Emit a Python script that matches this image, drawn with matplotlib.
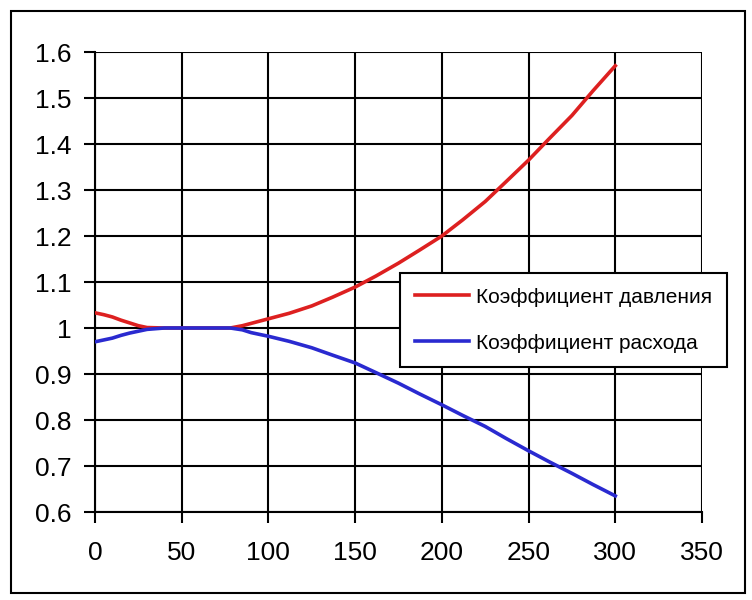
import matplotlib
matplotlib.use("Agg")
import matplotlib.pyplot as plt
from matplotlib.patches import Rectangle

plt.rcParams['font.family'] = ['Liberation Sans', 'DejaVu Sans']

x_vals = [0, 5, 10, 15, 20, 25, 30, 40, 50, 60, 70, 78, 85, 90, 100, 112, 125, 137, 150,
          162, 175, 187, 200, 212, 225, 237, 250, 262, 275, 287, 300]
pressure = [1.033, 1.029, 1.024, 1.017, 1.011, 1.005, 1.001, 1.0, 1.0, 1.0, 1.0, 1.0, 1.005, 1.01, 1.02,
            1.032, 1.048, 1.067, 1.089, 1.113, 1.141, 1.169, 1.2, 1.235, 1.275, 1.318, 1.365, 1.412, 1.462,
            1.515, 1.57]
flow = [0.97, 0.974, 0.978, 0.984, 0.989, 0.993, 0.997, 1.0, 1.0, 1.0, 1.0, 1.0, 0.996, 0.99, 0.982,
        0.971, 0.957, 0.941, 0.924, 0.903, 0.88, 0.857, 0.833, 0.81, 0.786, 0.76, 0.733, 0.709, 0.684,
        0.66, 0.635]

labels = ['Коэффициент давления', 'Коэффициент расхода']
x_ticks = [0, 50, 100, 150, 200, 250, 300, 350]
y_ticks = [0.6, 0.7, 0.8, 0.9, 1.0, 1.1, 1.2, 1.3, 1.4, 1.5, 1.6]
y_tick_labels = ['0.6', '0.7', '0.8', '0.9', '1', '1.1', '1.2', '1.3', '1.4', '1.5', '1.6']

fig = plt.figure(figsize=(7.52, 6), dpi=100)
fig.patch.set_facecolor('white')
ax = fig.add_axes([95/752, 1-512/600, (702-95)/752, (512-52)/600])

ax.plot(x_vals, pressure, color='#dd2020', lw=2.6, label=labels[0], zorder=3)
ax.plot(x_vals, flow, color='#2a2ad0', lw=2.6, label=labels[1], zorder=3)

ax.set_xlim(0, 350)
ax.set_ylim(0.6, 1.6)
ax.set_xticks(x_ticks)
ax.set_yticks(y_ticks)
ax.set_yticklabels(y_tick_labels)
ax.grid(True, color='black', lw=1.5)
ax.set_axisbelow(True)
for s in ax.spines.values():
    s.set_visible(False)
ax.spines['left'].set_visible(True)
ax.spines['bottom'].set_visible(True)
ax.spines['left'].set_linewidth(1.5)
ax.spines['bottom'].set_linewidth(1.5)
ax.tick_params(axis='both', length=8, width=1.5, labelsize=19, colors='black')
ax.tick_params(axis='y', pad=9)
ax.tick_params(axis='x', pad=13)

leg = fig.legend(loc='upper left', bbox_to_anchor=(400/752, 1-273/600), fontsize=15,
                 frameon=True, fancybox=False, edgecolor='black', framealpha=1,
                 handlelength=2.6, handletextpad=0.35, labelspacing=1.3, borderpad=0.7,
                 borderaxespad=0)
leg.get_frame().set_linewidth(1.5)

fig.patches.append(Rectangle((11/752, 1-593/600), (745-11)/752, (593-11)/600,
                             transform=fig.transFigure, fill=False, edgecolor='black', lw=1.5))

fig.savefig('out.png', dpi=100)
